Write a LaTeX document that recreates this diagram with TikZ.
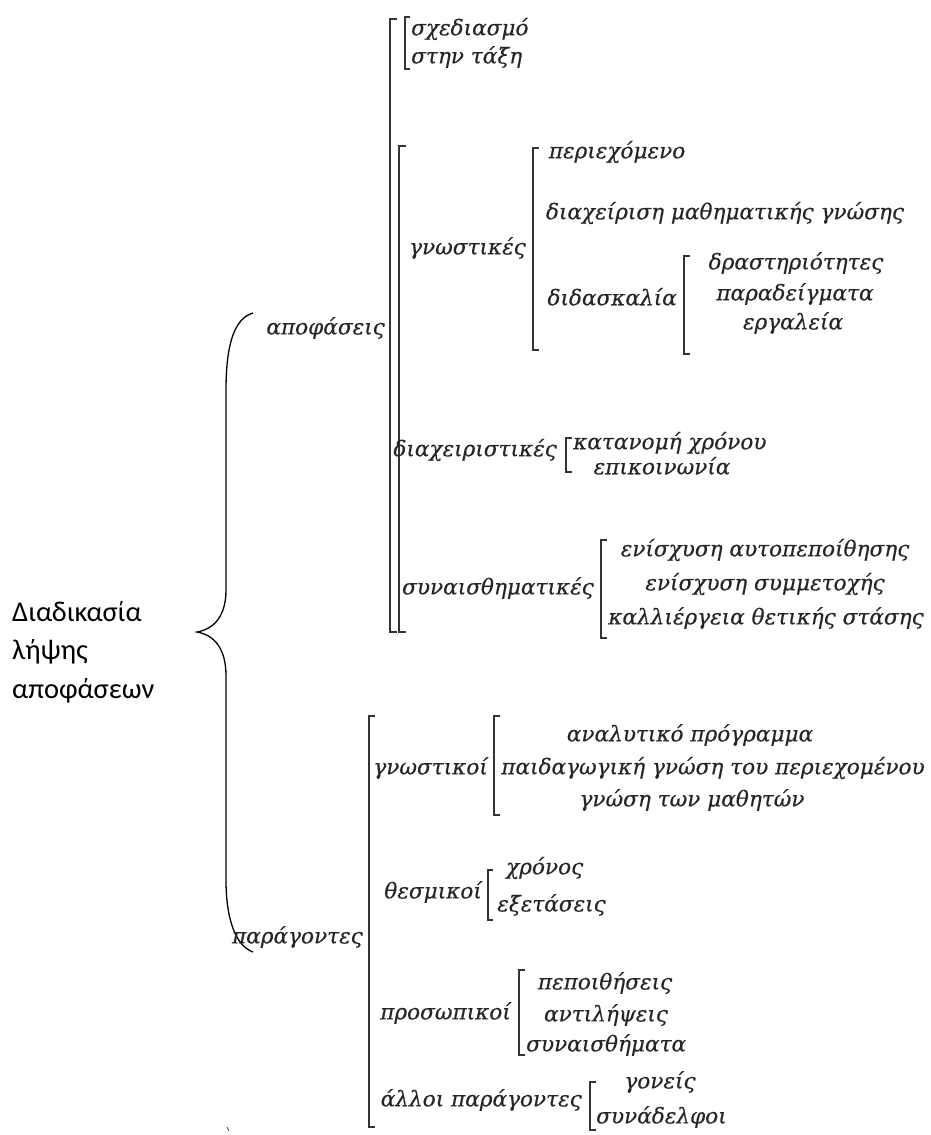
\documentclass[tikz,border=0pt]{standalone}
\usepackage{fontspec}
\setmainfont{DejaVu Serif}[ItalicFeatures={FakeBold=0.35}]
\newfontfamily\titlefont{Carlito}
\tikzset{
  lbl/.style={font=\fontsize{21.6}{24}\selectfont\itshape, text=black!85, inner sep=0pt},
  ttl/.style={font=\titlefont\fontsize{28.5}{38.5}\selectfont, align=left, inner sep=0pt, text=black},
  brk/.style={line width=1.5pt, draw=black!80},
  bigbrk/.style={line width=2.6pt, draw=black!80},
  brace/.style={line width=1.3pt, draw=black}
}
\newcommand{\mybrk}[4][6]{\draw[brk] (#2+#1,#3) -- (#2,#3) -- (#2,#4) -- (#2+#1,#4);}
\begin{document}
\begin{tikzpicture}[x=1pt,y=-1pt]
\useasboundingbox (0,0) rectangle (931,1135);
% title
\node[ttl, anchor=west] (title) at (12,652) {Διαδικασία\\λήψης\\αποφάσεων};
% brace
\draw[brace] (253,313) .. controls (236,318) and (226,340) .. (226,390) -- (226,590)
  .. controls (226,616) and (214,629) .. (197,632)
  .. controls (214,635) and (226,648) .. (226,676) -- (226,880)
  .. controls (226,920) and (236,946) .. (253,952);
% speck
\draw[black!60, line width=1pt] (227,1127) -- (229,1131);

% ---------- decisions ----------
\node[lbl, anchor=east] (apo) at (385,328) {αποφάσεις};
\draw[bigbrk] (397,19) -- (390,19) -- (390,632) -- (397,632);
\draw[bigbrk] (406,146) -- (399,146) -- (399,632) -- (406,632);
\mybrk[5]{405}{17}{69}
\node[lbl, anchor=west] (sxed) at (411,29) {σχεδιασμό};
\node[lbl, anchor=west] (taxi) at (411,57) {στην τάξη};

\node[lbl, anchor=east] (gnwst) at (526,248) {γνωστικές};
\mybrk{533}{148}{350}
\node[lbl] (perie) at (617,152) {περιεχόμενο};
\node[lbl] (diax) at (725,213) {διαχείριση μαθηματικής γνώσης};
\node[lbl, anchor=east] (didask) at (677,297) {διδασκαλία};
\mybrk{684}{256}{354}
\node[lbl] (drast) at (796,263) {δραστηριότητες};
\node[lbl] (parad) at (795,294) {παραδείγματα};
\node[lbl] (ergal) at (793,323) {εργαλεία};

\node[lbl, anchor=east] (diaxeir) at (557,450) {διαχειριστικές};
\mybrk{566}{438}{472}
\node[lbl, anchor=west] (katan) at (573,443) {κατανομή χρόνου};
\node[lbl] (epik) at (662,466) {επικοινωνία};

\node[lbl, anchor=east] (synais) at (594,588) {συναισθηματικές};
\mybrk{601}{540}{638}
\node[lbl] (enis1) at (765,550) {ενίσχυση αυτοπεποίθησης};
\node[lbl] (enis2) at (765,584) {ενίσχυση συμμετοχής};
\node[lbl] (kall) at (766,618) {καλλιέργεια θετικής στάσης};

% ---------- factors ----------
\node[lbl, anchor=east] (parag) at (363,937) {παράγοντες};
\mybrk{369}{716}{1127}

\node[lbl, anchor=east] (gnwstikoi) at (488,768) {γνωστικοί};
\mybrk{494}{716}{815}
\node[lbl] (paid) at (713,768) {παιδαγωγική γνώση του περιεχομένου};
\node[lbl] (anal) at (690,735) {αναλυτικό πρόγραμμα};
\node[lbl] (gnwsi) at (692,800) {γνώση των μαθητών};

\node[lbl, anchor=east] (thesm) at (482,892) {θεσμικοί};
\mybrk[5]{488}{870}{920}
\node[lbl, anchor=west] (xronos) at (506,868) {χρόνος};
\node[lbl, anchor=west] (exet) at (497,905) {εξετάσεις};

\node[lbl, anchor=east] (pros) at (511,1013) {προσωπικοί};
\mybrk{519}{970}{1055}
\node[lbl] (pepoi) at (605,983) {πεποιθήσεις};
\node[lbl] (antil) at (606,1015) {αντιλήψεις};
\node[lbl, anchor=west] (synaisth) at (526,1045) {συναισθήματα};

\node[lbl, anchor=east] (alloi) at (582,1100) {άλλοι παράγοντες};
\mybrk{590}{1082}{1130}
\node[lbl] (goneis) at (660,1082) {γονείς};
\node[lbl, anchor=west] (synad) at (596,1117) {συνάδελφοι};
\end{tikzpicture}
\end{document}
